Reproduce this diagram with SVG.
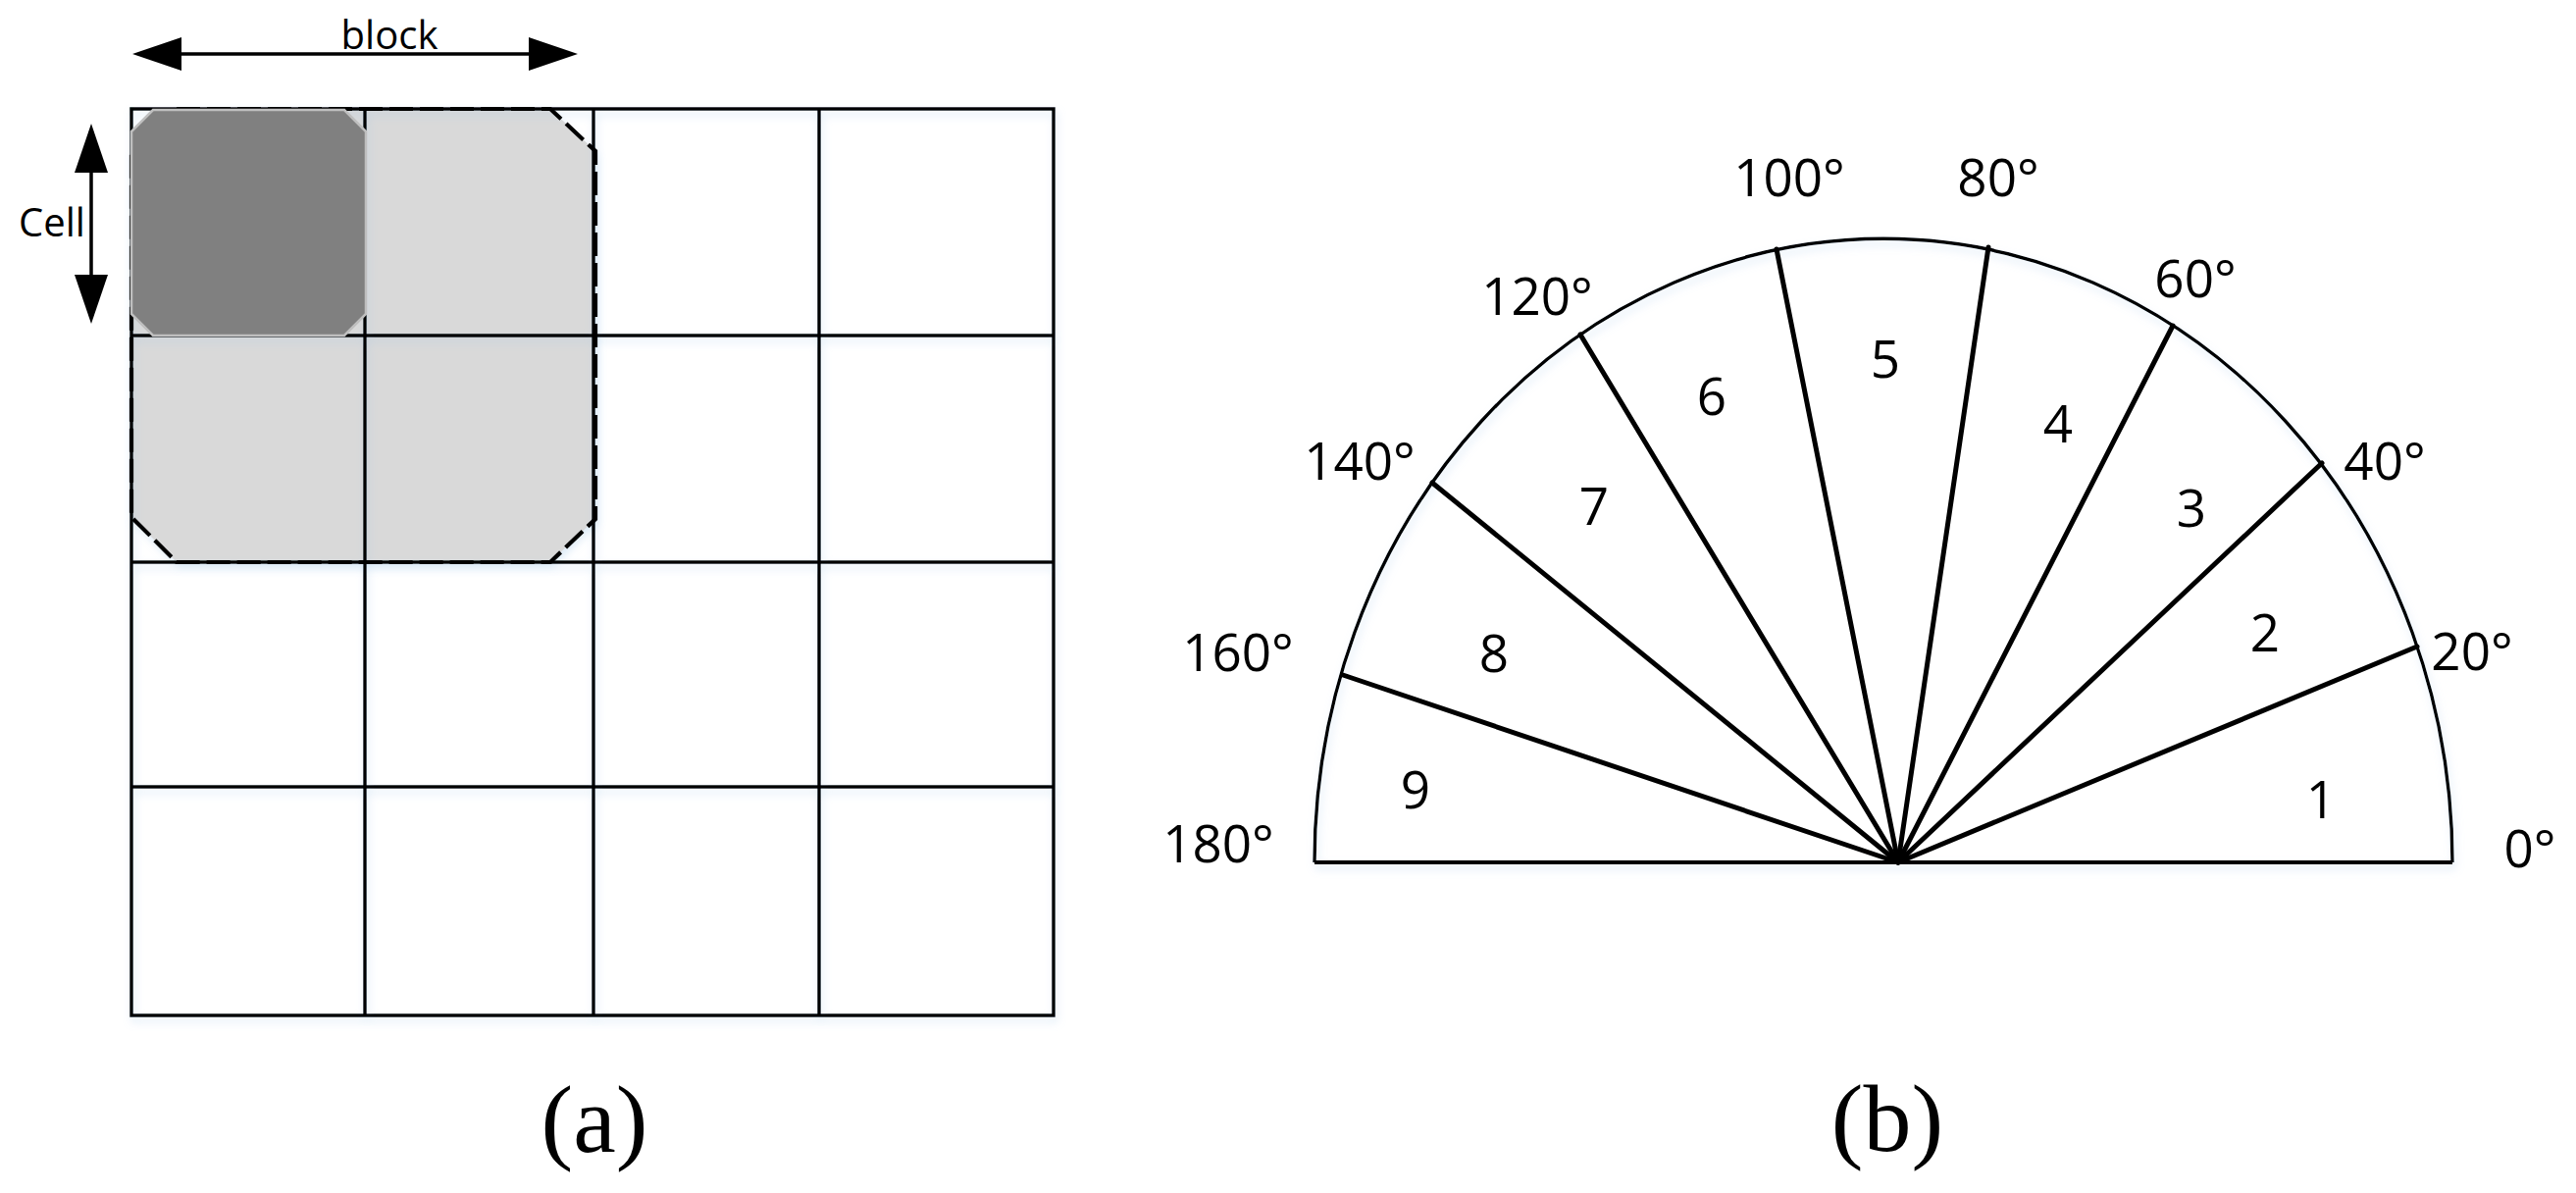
<svg xmlns="http://www.w3.org/2000/svg" width="2626" height="1216" viewBox="0 0 2626 1216">
  <defs>
    <style>
      .grid { fill: none; stroke: #000; stroke-width: 3.5; }
      .lbl { font-family: "Open Sans", "Noto Sans", sans-serif; fill: #000; }
      .deg { font-family: "Open Sans", "Noto Sans", sans-serif; font-size: 53px; fill: #000; text-anchor: middle; }
      .cap { font-family: "Liberation Serif", "Times New Roman", serif; font-size: 98px; fill: #000; text-anchor: middle; }
      .spoke { stroke: #000; stroke-width: 5; fill: none; stroke-linecap: round; }
      .dim { stroke: #000; stroke-width: 3.5; fill: none; }
    </style>
    <marker id="ah" viewBox="0 0 50 34" markerUnits="userSpaceOnUse" markerWidth="50" markerHeight="34" refX="25" refY="17" orient="auto-start-reverse">
      <path d="M0,0 L50,17 L0,34 Z" fill="#000"/>
    </marker>
    <filter id="sh" x="-5%" y="-5%" width="115%" height="115%">
      <feDropShadow dx="2" dy="5" stdDeviation="4" flood-color="#9dc3e6" flood-opacity="0.35"/>
    </filter>
  </defs>
  <rect width="2626" height="1216" fill="#fff"/>

  <!-- (a) block / cell grid -->
  <g id="block-region" filter="url(#sh)">
    <polygon points="180,111 561,111 607,154 607,529 561,573 180,573 134,527 134,155" fill="#d9d9d9"/>
  </g>
  <g id="grid" class="grid" filter="url(#sh)">
    <rect x="134" y="111" width="940" height="924"/>
    <line x1="372" y1="111" x2="372" y2="1035"/>
    <line x1="605" y1="111" x2="605" y2="1035"/>
    <line x1="835" y1="111" x2="835" y2="1035"/>
    <line x1="134" y1="342" x2="1074" y2="342"/>
    <line x1="134" y1="573" x2="1074" y2="573"/>
    <line x1="134" y1="802" x2="1074" y2="802"/>
  </g>
  <g id="block-outline">
    <polygon points="180,111 561,111 607,154 607,529 561,573 180,573 134,527 134,155" fill="none" stroke="#000" stroke-width="4.2" stroke-dasharray="24 7"/>
  </g>
  <g id="cell">
    <polygon points="156,112 351,112 373,134 373,320 351,342 156,342 134,320 134,134" fill="#808080" stroke="#bfbfbf" stroke-width="2.5"/>
  </g>

  <g id="dimensions">
    <line class="dim" x1="160" y1="55" x2="564" y2="55" marker-start="url(#ah)" marker-end="url(#ah)"/>
    <line class="dim" x1="93" y1="151" x2="93" y2="305" marker-start="url(#ah)" marker-end="url(#ah)"/>
  </g>
  <g id="dim-labels">
    <text class="lbl" x="397" y="50" font-size="40" text-anchor="middle">block</text>
    <text class="lbl" x="19" y="241" font-size="40">Cell</text>
  </g>

  <!-- (b) orientation bins -->
  <g id="semicircle" filter="url(#sh)">
    <path d="M1340,879 A580,636 0 0 1 2500,879" fill="none" stroke="#000" stroke-width="3.4"/>
    <line x1="1340" y1="879" x2="2500" y2="879" stroke="#000" stroke-width="4"/>
  </g>
  <g id="spokes">
    <line class="spoke" x1="1935" y1="879" x2="2464" y2="659"/>
    <line class="spoke" x1="1935" y1="879" x2="2367" y2="472"/>
    <line class="spoke" x1="1935" y1="879" x2="2215" y2="332"/>
    <line class="spoke" x1="1935" y1="879" x2="2027" y2="252"/>
    <line class="spoke" x1="1935" y1="879" x2="1811" y2="254"/>
    <line class="spoke" x1="1935" y1="879" x2="1611" y2="341"/>
    <line class="spoke" x1="1935" y1="879" x2="1460" y2="492"/>
    <line class="spoke" x1="1935" y1="879" x2="1369" y2="688"/>
  </g>
  <g id="angle-labels" class="deg">
    <text x="2579" y="884">0°</text>
    <text x="2520" y="683">20°</text>
    <text x="2431" y="489">40°</text>
    <text x="2238" y="303">60°</text>
    <text x="2037" y="200">80°</text>
    <text x="1824" y="200">100°</text>
    <text x="1567" y="321">120°</text>
    <text x="1386" y="489">140°</text>
    <text x="1262" y="684">160°</text>
    <text x="1242" y="879">180°</text>
  </g>
  <g id="bin-labels" class="deg">
    <text x="2366" y="834">1</text>
    <text x="2309" y="664">2</text>
    <text x="2234" y="537">3</text>
    <text x="2098" y="451">4</text>
    <text x="1922" y="385">5</text>
    <text x="1745" y="423">6</text>
    <text x="1625" y="535">7</text>
    <text x="1523" y="685">8</text>
    <text x="1443" y="824">9</text>
  </g>

  <g id="captions">
    <text class="cap" x="606" y="1174">(a)</text>
    <text class="cap" x="1924" y="1173">(b)</text>
  </g>
</svg>
